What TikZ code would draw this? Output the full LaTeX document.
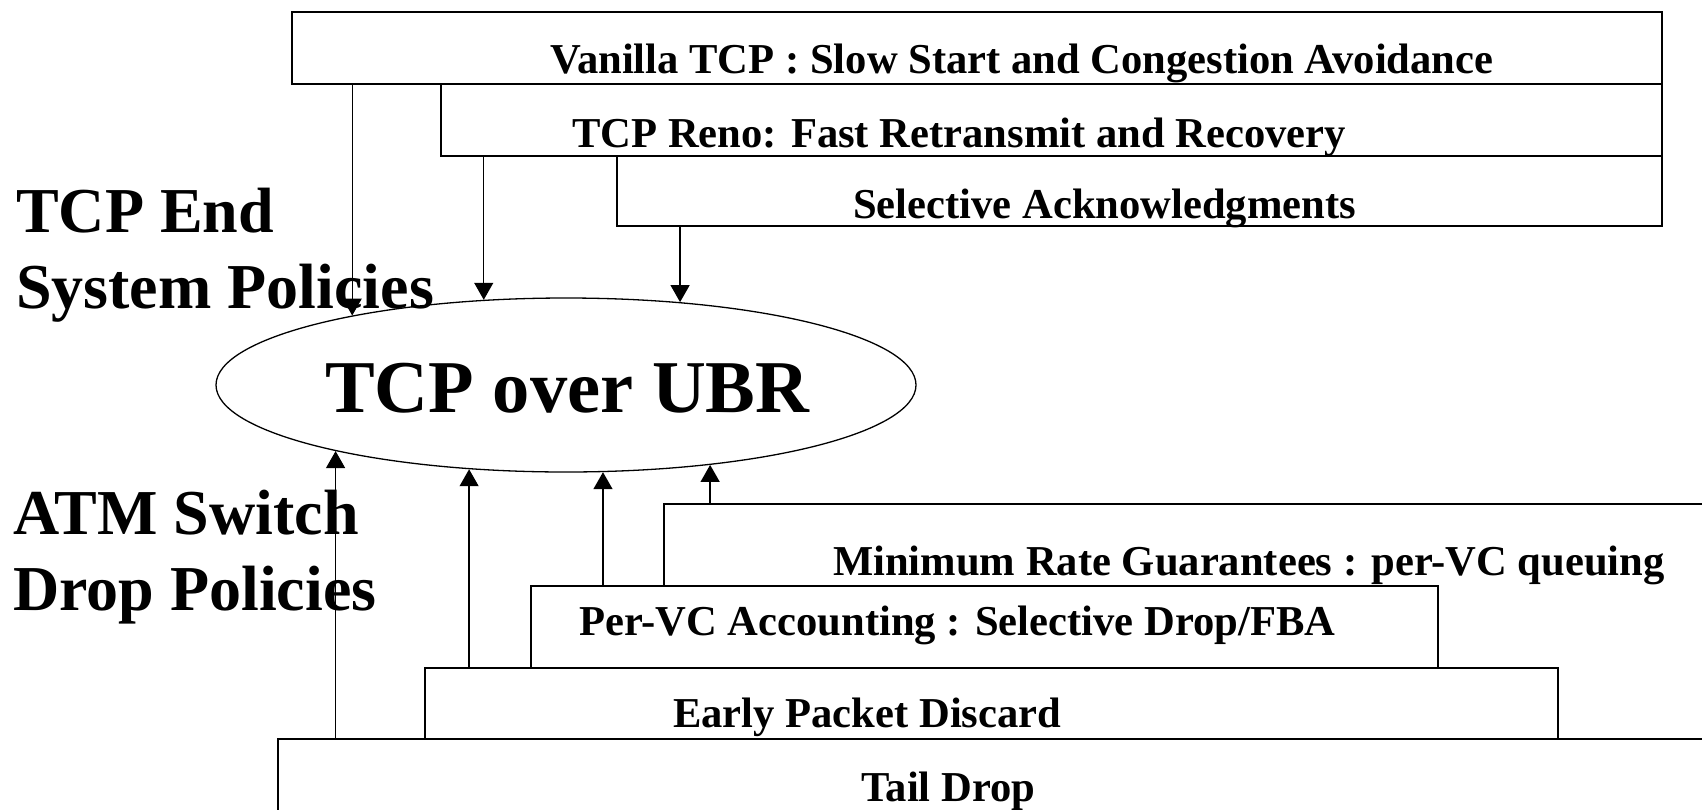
\documentclass[tikz,border=0pt]{standalone}
\usepackage{fontspec}
\setmainfont{Liberation Serif}
\usetikzlibrary{arrows.meta}
\usetikzlibrary{shapes.geometric}

\begin{document}
\begin{tikzpicture}[x=1pt, y=-1pt,
  box/.style={draw, line width=1.6pt, fill=white, rectangle, inner sep=0pt, anchor=north west},
  boxtext/.style={anchor=base west, inner sep=0pt, font=\fontsize{42.6}{50}\selectfont\bfseries},
  sidetext/.style={anchor=base west, inner sep=0pt, align=left, font=\fontsize{64}{76}\selectfont\bfseries},
  arr/.style={line width=1.3pt, -{Triangle[length=17pt, width=19pt]}}]

\useasboundingbox (0,0) rectangle (1702,809);
\clip (0,0) rectangle (1702,809);

% Centre: the ellipse
\node[draw, ellipse, line width=1.3pt, minimum width=700pt, minimum height=174pt, inner sep=0pt] (ubr) at (566,385) {};
\node[anchor=base west, inner sep=0pt, font=\fontsize{74.5}{80}\selectfont\bfseries] (ubrtext) at (325,412) {TCP over UBR};

% Side headings
\node[sidetext] (endsys) at (16,308) {TCP End\\System Policies};
\node[sidetext] (switch) at (13,610) {ATM Switch\\Drop Policies};

% End system boxes (top)
\node[box, minimum width=1370pt, minimum height=72pt] (vanilla) at (291,11) {};
\node[boxtext] (vanillatext) at (550,73) {Vanilla TCP : Slow Start and Congestion Avoidance};

\node[box, minimum width=1221pt, minimum height=72pt] (reno) at (440,83) {};
\node[boxtext] (renotext) at (572,147) {TCP Reno: Fast Retransmit and Recovery};

\node[box, minimum width=1045pt, minimum height=70pt] (sack) at (616,155) {};
\node[boxtext] (sacktext) at (853,218) {Selective Acknowledgments};

% Switch boxes (bottom)
\node[box, minimum width=1100pt, minimum height=236pt] (minrate) at (663,503) {};
\node[boxtext] (minratetext) at (833,575) {Minimum Rate Guarantees : per-VC queuing};

\node[box, minimum width=1480pt, minimum height=120pt] (taildrop) at (277,738) {};
\node[boxtext] (taildroptext) at (861,801) {Tail Drop};

\node[box, minimum width=1133pt, minimum height=71pt] (epd) at (424,667) {};
\node[boxtext] (epdtext) at (673,727) {Early Packet Discard};

\node[box, minimum width=907pt, minimum height=82pt] (pervc) at (530,585) {};
\node[boxtext] (pervctext) at (579,635) {Per-VC Accounting : Selective Drop/FBA};

% Arrows into the ellipse
\draw[arr] (ubr.162.6 |- vanilla.south) -- (ubr.162.6);
\draw[arr] (ubr.134.1 |- reno.south) -- (ubr.134.1);
\draw[arr] (ubr.36 |- sack.south) -- (ubr.36);

\draw[arr] (ubr.196.7 |- taildrop.north) -- (ubr.196.7);
\draw[arr] (ubr.221.1 |- epd.north) -- (ubr.221.1);
\draw[arr] (ubr.293.2 |- pervc.north) -- (ubr.293.2);
\draw[arr] (ubr.331 |- minrate.north) -- (ubr.331);
\end{tikzpicture}
\end{document}
